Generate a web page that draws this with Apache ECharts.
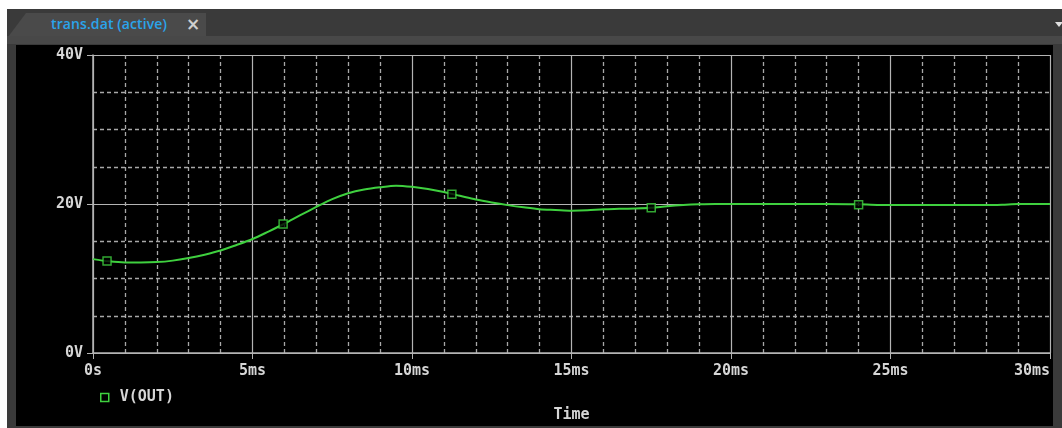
<!DOCTYPE html>
<html>
<head>
<meta charset="utf-8">
<script src="https://cdn.jsdelivr.net/npm/echarts@6/dist/echarts.min.js"></script>
<style>
  html, body { margin: 0; padding: 0; width: 1062px; height: 428px; background: #ffffff; overflow: hidden; }
  #bar { position: absolute; left: 7px; top: 9px; width: 1055px; height: 419px; background: #3a3a3a; }
  #tab { position: absolute; left: 8px; top: 13px; width: 198px; height: 24px; background: #4a4a4a;
         clip-path: polygon(18px 0, 100% 0, 100% 100%, 0 100%); }
  #tabtxt { position: absolute; left: 51px; top: 13px; font-family: "Open Sans", "Noto Sans", sans-serif;
            font-size: 14px; font-weight: 600; color: #2aa4ea; line-height: 22px; white-space: nowrap; letter-spacing: 0.1px; }
  #tabx { position: absolute; left: 186px; top: 12px; font-family: "DejaVu Sans", sans-serif; font-size: 17px;
          font-weight: bold; color: #cfcfcf; line-height: 24px; }
  #strip { position: absolute; left: 7px; top: 36px; width: 1055px; height: 8px; background: #484848; }
  #panel { position: absolute; left: 16px; top: 45px; width: 1037px; height: 381px; background: #000000; }
  #tri { position: absolute; left: 1055px; top: 22px; width: 0; height: 0;
         border-left: 4px solid transparent; border-right: 4px solid transparent; border-top: 5px solid #e0e0e0; }
  #chart { position: absolute; left: 0; top: 0; width: 1062px; height: 428px; }
</style>
</head>
<body>
<div id="bar"></div>
<div id="tab"></div>
<div id="tabtxt">trans.dat (active)</div>
<div id="tabx">×</div>
<div id="strip"></div>
<div id="panel"></div>
<div id="tri"></div>
<div id="chart"></div>
<script>
// Time in ms, voltage in V
var timeMs = [0, 0.5, 1, 1.5, 2, 2.5, 3, 3.5, 4, 4.5, 5, 5.5, 6, 6.5, 7, 7.5, 8, 8.5, 9, 9.5,
              10, 10.5, 11, 11.5, 12, 12.5, 13, 13.5, 14, 14.5, 15, 15.5, 16, 16.5, 17, 17.5, 18, 18.5, 19, 19.5,
              20, 21, 22, 23, 24, 25, 26, 27, 28, 28.5, 29, 30];
var vOut = [12.6, 12.3, 12.15, 12.15, 12.2, 12.4, 12.75, 13.2, 13.75, 14.5, 15.3, 16.3, 17.35, 18.5, 19.6, 20.65, 21.45, 21.95, 22.25, 22.45,
            22.3, 22.0, 21.6, 21.1, 20.6, 20.2, 19.85, 19.55, 19.3, 19.2, 19.1, 19.15, 19.3, 19.35, 19.4, 19.5, 19.7, 19.85, 19.95, 20.0,
            20.0, 20.0, 20.0, 20.0, 19.95, 19.85, 19.85, 19.85, 19.85, 19.9, 20.0, 20.0];
// Marker squares drawn on the trace
var markerTimeMs = [0.44, 5.96, 11.25, 17.5, 24.0];
var markerV = [12.35, 17.3, 21.3, 19.5, 19.9];

var xTickLabels = { 0: '0s', 5: '5ms', 10: '10ms', 15: '15ms', 20: '20ms', 25: '25ms', 30: '30ms' };
var yTickLabels = { 0: '0V', 20: '20V', 40: '40V' };
var seriesName = 'V(OUT)';
var xName = 'Time';

var green = '#3fd03f';
var solid = '#b4b4b4';
var dash = '#a8a8a8';
var labelFont = { color: '#d6d6d6', fontFamily: 'DejaVu Sans Mono', fontSize: 15, fontWeight: 'bold' };

var lineData = timeMs.map(function (t, i) { return [t, vOut[i]]; });
var markData = markerTimeMs.map(function (t, i) { return [t, markerV[i]]; });

var chart = echarts.init(document.getElementById('chart'), null, { renderer: 'canvas' });
chart.setOption({
  backgroundColor: 'transparent',
  animation: false,
  grid: { left: 93, right: 12, top: 55, bottom: 75, containLabel: false },
  legend: {
    left: 95, top: 385,
    itemWidth: 8, itemHeight: 8,
    data: [{ name: seriesName, icon: 'rect',
             itemStyle: { color: '#000000', borderColor: green, borderWidth: 1.5 } }],
    textStyle: Object.assign({ padding: [0, 0, 0, 6] }, labelFont)
  },
  xAxis: {
    type: 'value', min: 0, max: 30, interval: 5,
    name: xName, nameLocation: 'middle', nameGap: 55,
    nameTextStyle: labelFont,
    axisLine: { show: true, lineStyle: { color: solid, width: 1.5 } },
    axisTick: { show: true, length: 6, lineStyle: { color: solid } },
    axisLabel: Object.assign({ margin: 11, showMaxLabel: true, alignMaxLabel: 'right',
                 formatter: function (v) { return xTickLabels[v] !== undefined ? xTickLabels[v] : ''; } }, labelFont),
    splitLine: { show: true, lineStyle: { color: solid, width: 1.2 } },
    minorTick: { show: false, splitNumber: 5 },
    minorSplitLine: { show: true, lineStyle: { color: dash, width: 1.3, type: [4, 3] } }
  },
  yAxis: {
    type: 'value', min: 0, max: 40, interval: 20,
    axisLine: { show: true, lineStyle: { color: solid, width: 1.5 } },
    axisTick: { show: true, length: 6, lineStyle: { color: solid } },
    axisLabel: Object.assign({ margin: 10,
                 formatter: function (v) { return yTickLabels[v] !== undefined ? yTickLabels[v] : ''; } }, labelFont),
    splitLine: { show: true, lineStyle: { color: solid, width: 1.2 } },
    minorTick: { show: false, splitNumber: 4 },
    minorSplitLine: { show: true, lineStyle: { color: dash, width: 1.3, type: [4, 3] } }
  },
  series: [
    { name: seriesName, type: 'line', data: lineData, smooth: 0.3, showSymbol: false,
      lineStyle: { color: green, width: 2 }, itemStyle: { color: green }, z: 3 },
    { name: seriesName, type: 'scatter', data: markData, symbol: 'rect', symbolSize: 8,
      itemStyle: { color: '#000000', borderColor: green, borderWidth: 1.5 }, z: 4 }
  ]
});
</script>
</body>
</html>
